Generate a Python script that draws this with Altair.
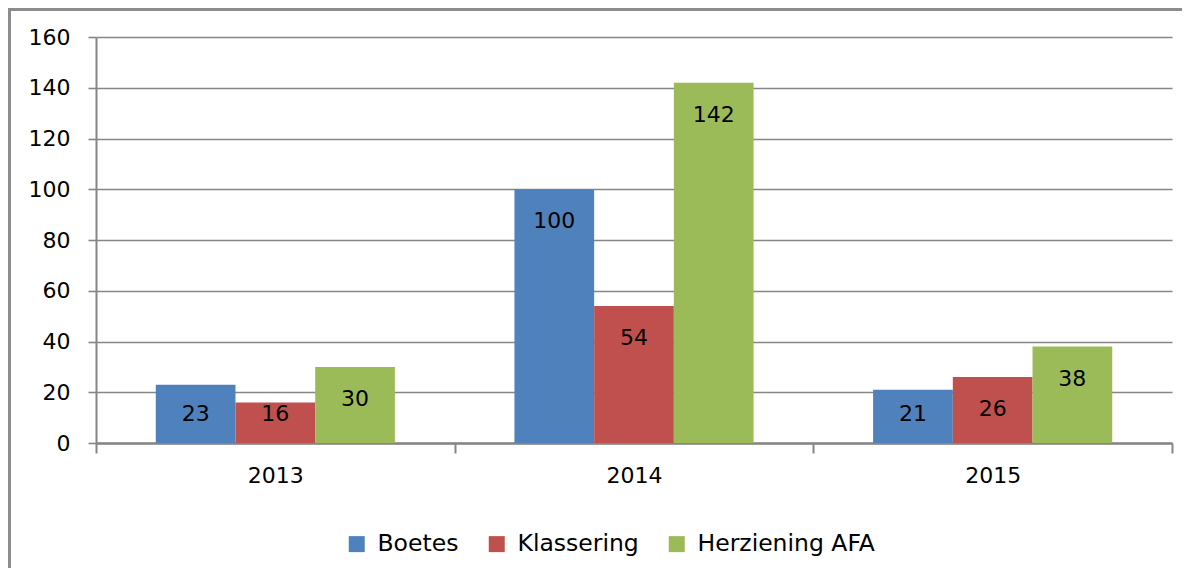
import altair as alt
import pandas as pd

years = ["2013", "2014", "2015"]
series = ["Boetes", "Klassering", "Herziening AFA"]
boetes = [23, 100, 21]
klassering = [16, 54, 26]
herziening = [30, 142, 38]
colors = ["#4F81BD", "#C0504D", "#9BBB59"]
y_ticks = [0, 20, 40, 60, 80, 100, 120, 140, 160]

rows = []
for s, vals in zip(series, [boetes, klassering, herziening]):
    for yr, v in zip(years, vals):
        rows.append({"year": yr, "series": s, "value": v})
df = pd.DataFrame(rows)

FONT = "DejaVu Sans"
GRID = "#868686"
W, H = 1076, 406

x_enc = alt.X("year:N", sort=years, title=None,
              scale=alt.Scale(paddingInner=0, paddingOuter=0),
              axis=alt.Axis(labelAngle=0, tickBand="extent", grid=False,
                            domainColor=GRID, domainWidth=2.5, tickColor=GRID,
                            tickWidth=2, tickSize=10, labelPadding=12,
                            labelFontSize=22, labelFont=FONT, labelColor="#000000"))
xoff = alt.XOffset("series:N", sort=series,
                   scale=alt.Scale(paddingOuter=0.75, paddingInner=0))

bars = alt.Chart(df).mark_bar(strokeWidth=0).encode(
    x=x_enc,
    xOffset=xoff,
    y=alt.Y("value:Q", title=None,
            scale=alt.Scale(domain=[0, 160], nice=False),
            axis=alt.Axis(values=y_ticks, grid=True, gridColor=GRID, gridWidth=1.6,
                          domainColor=GRID, domainWidth=2, tickColor=GRID, tickWidth=1.6,
                          tickSize=8, labelPadding=18, labelFontSize=22, labelFont=FONT,
                          labelColor="#000000")),
    color=alt.Color("series:N", sort=series,
                    scale=alt.Scale(domain=series, range=colors),
                    legend=alt.Legend(title=None, orient="none", direction="horizontal",
                                      legendX=249, legendY=495, symbolType="square",
                                      symbolSize=256, symbolStrokeWidth=0,
                                      symbolOpacity=1, labelFontSize=23.5,
                                      labelFont=FONT, labelColor="#000000",
                                      labelLimit=400,
                                      labelOffset=9, columnPadding=26, padding=0)),
)

labels = alt.Chart(df).transform_calculate(
    labely="max(datum.value - 12.6, 11.4)"
).mark_text(fontSize=22, font=FONT, color="#000000", baseline="middle").encode(
    x=alt.X("year:N", sort=years),
    xOffset=xoff,
    y=alt.Y("labely:Q"),
    text=alt.Text("value:Q"),
)

frame_left = alt.Chart(df).mark_rule(color="#8c8c8c", strokeWidth=3).encode(
    x=alt.value(-86.5), y=alt.value(-29), y2=alt.value(H + 140)
)
frame_top = alt.Chart(df).mark_rule(color="#8c8c8c", strokeWidth=3).encode(
    x=alt.value(-88), x2=alt.value(W + 10), y=alt.value(-27.5)
)

chart = alt.layer(bars, labels, frame_left, frame_top).properties(
    width=W, height=H,
    autosize=alt.AutoSizeParams(type="none"),
    padding={"left": 88, "top": 29, "right": 11, "bottom": 125},
).configure_view(stroke=None).configure_axis(labelFont=FONT)

chart.save("out.html", embed_options={"renderer": "svg", "actions": False})
